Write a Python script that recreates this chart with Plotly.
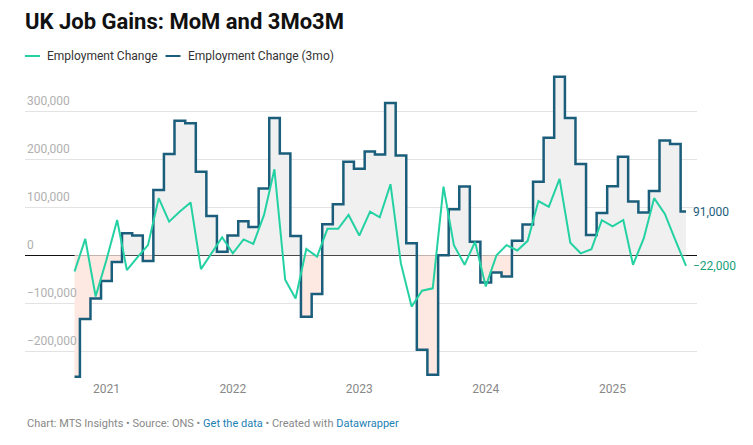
import numpy as np
import pandas as pd
import plotly.graph_objects as go

# ---- data ----
months = pd.date_range("2020-10-01", periods=59, freq="MS")

mom = [-34000, 34000, -86000, -10000, 73500, -31000, -4000, 21000, 119000, 70000,
       91000, 110000, -29000, 4000, 37500, 4000, 33000, 23500, 84000, 179000,
       -51000, -90000, 13000, -3000, 55000, 55000, 84000, 41000, 91000, 79000,
       148000, -17000, -107000, -74000, -69000, 143000, 21000, -20000, 28000, -65000,
       0, 21000, 10000, 30000, 113000, 101000, 159000, 26000, 4000, 12500,
       73000, 60000, 73500, -20000, 35000, 119000, 86000, 32000, -22000]

three_mo = [-253000, -133000, -90000, -53500, -14000, 46000, 41000, -12000, 136000, 211000,
            280000, 275000, 174000, 82000, 7500, 41000, 71000, 59000, 139000, 286000,
            212000, 40000, -128000, -81000, 64500, 106000, 195000, 180000, 216000, 210000,
            317000, 208000, 25000, -197000, -249000, 0, 96000, 143000, 28000, -57000,
            -36000, -44500, 30000, 64000, 153000, 245000, 372000, 286000, 190000, 42000,
            88000, 144000, 205000, 112000, 89000, 134000, 239000, 232000, 91000]

y_tick_vals = [-200000, -100000, 0, 100000, 200000, 300000]
y_tick_labels = ["\u2212200,000", "\u2212100,000", "0", "100,000", "200,000", "300,000"]
x_tick_vals = ["2021-01-01", "2022-01-01", "2023-01-01", "2024-01-01", "2025-01-01"]
x_tick_labels = ["2021", "2022", "2023", "2024", "2025"]

series_names = ["Employment Change", "Employment Change (3mo)"]

# ---- styles ----
GREEN = "#24d1a3"
GREEN_TXT = "#17a07c"
BLUE = "#1b5e7b"
POS_FILL = "#f0f0f0"
NEG_FILL = "#fde9e1"
FONT = "Roboto"

three_arr = np.array(three_mo, dtype=float)

fig = go.Figure()

# fills between 3mo step line and zero
fig.add_trace(go.Scatter(x=months, y=np.maximum(three_arr, 0), mode="lines",
                         line=dict(shape="hvh", width=0, color=POS_FILL),
                         fill="tozeroy", fillcolor=POS_FILL, showlegend=False,
                         hoverinfo="skip"))
fig.add_trace(go.Scatter(x=months, y=np.minimum(three_arr, 0), mode="lines",
                         line=dict(shape="hvh", width=0, color=NEG_FILL),
                         fill="tozeroy", fillcolor=NEG_FILL, showlegend=False,
                         hoverinfo="skip"))

# 3mo step line
fig.add_trace(go.Scatter(x=months, y=three_mo, mode="lines", name=series_names[1],
                         line=dict(shape="hvh", width=2.5, color=BLUE),
                         showlegend=False))
# MoM line
fig.add_trace(go.Scatter(x=months, y=mom, mode="lines", name=series_names[0],
                         line=dict(width=2, color=GREEN), showlegend=False))

annotations = []
# y tick labels above gridlines
for v, t in zip(y_tick_vals, y_tick_labels):
    annotations.append(dict(x=0, xref="paper", y=v, yref="y", text=t, showarrow=False,
                            xanchor="left", yanchor="bottom", yshift=1,
                            font=dict(family=FONT, size=12, color="#b0b0b0")))

# end labels
def fmt(v):
    s = f"{abs(int(v)):,}"
    return ("\u2212" + s) if v < 0 else s

annotations.append(dict(x=months[-1], y=three_mo[-1], text=fmt(three_mo[-1]), showarrow=False,
                        xanchor="left", yanchor="middle", xshift=5,
                        font=dict(family=FONT, size=12, color=BLUE)))
annotations.append(dict(x=months[-1], y=mom[-1], text=fmt(mom[-1]), showarrow=False,
                        xanchor="left", yanchor="middle", xshift=5,
                        font=dict(family=FONT, size=12, color=GREEN_TXT)))

# legend
PL = 25; PW = 672; PT = 70; PH = 310
def px(xp):
    return (xp - PL) / PW
def py(yp):
    return (PT + PH - yp) / PH

legend_items = [(25, 40, 45, GREEN, series_names[0]), (165.5, 180.5, 185.5, BLUE, series_names[1])]
shapes = []
for x0, x1, xt, col, name in legend_items:
    shapes.append(dict(type="line", xref="paper", yref="paper", x0=px(x0), x1=px(x1),
                       y0=py(56), y1=py(56), line=dict(color=col, width=2)))
    annotations.append(dict(x=px(xt), xref="paper", y=py(56), yref="paper", text=name,
                            showarrow=False, xanchor="left", yanchor="middle",
                            font=dict(family=FONT, size=12, color="#333333")))

# footer
footer = ("Chart: MTS Insights \u2022 Source: ONS \u2022 "
          "<span style='color:#1d81b4'>Get the data</span> \u2022 Created with "
          "<span style='color:#1d81b4'>Datawrapper</span>")
annotations.append(dict(x=px(25), xref="paper", y=py(423), yref="paper", text=footer,
                        showarrow=False, xanchor="left", yanchor="middle",
                        font=dict(family=FONT, size=11, color="#888888")))

fig.update_layout(
    width=753, height=445,
    margin=dict(l=25, r=56, t=70, b=65),
    paper_bgcolor="white", plot_bgcolor="white",
    title=dict(text="<b>UK Job Gains: MoM and 3Mo3M</b>", x=px(25), xref="paper",
               xanchor="left", y=1 - 21 / 445, yanchor="middle",
               font=dict(family=FONT, size=22, color="#111111")),
    xaxis=dict(type="date", range=["2020-05-11", "2025-09-01 18:00"],
               tickvals=x_tick_vals, ticktext=x_tick_labels, showgrid=False,
               zeroline=False, showline=False, ticks="",
               tickfont=dict(family=FONT, size=12, color="#888888")),
    yaxis=dict(range=[-260000, 386000], tickvals=y_tick_vals, showticklabels=False,
               showgrid=True, gridcolor="#e3e3e3", gridwidth=1,
               zeroline=True, zerolinecolor="#111111", zerolinewidth=1, ticks=""),
    annotations=annotations, shapes=shapes,
    showlegend=False, hovermode=False,
)

fig.write_html("out.html", config={"displayModeBar": False},
               post_script="document.body.style.margin='0px';")
